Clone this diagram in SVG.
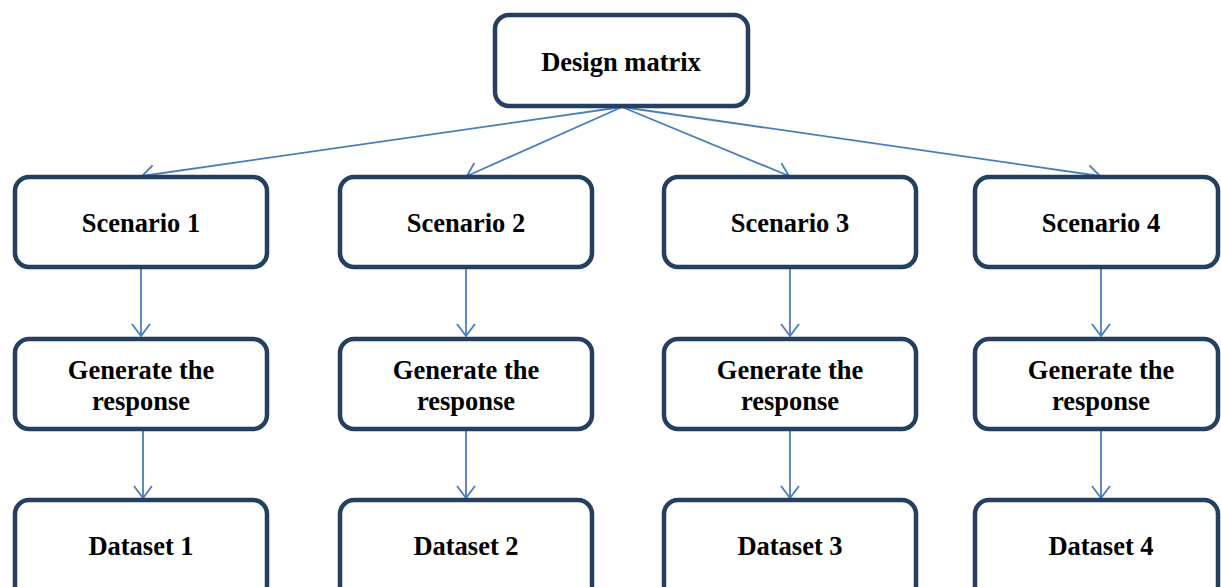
<svg xmlns="http://www.w3.org/2000/svg" width="1221" height="587" viewBox="0 0 1221 587">
<style>
.box{fill:#ffffff;stroke:#243f60;stroke-width:4.5}
.lbl{font-family:"Liberation Serif","Times New Roman",serif;font-weight:bold;font-size:26.5px;fill:#000;text-anchor:middle}
.conn{stroke:#4a7ebb;stroke-width:1.8;fill:none;marker-end:url(#arr)}
</style>
<defs>
<marker id="arr" markerUnits="userSpaceOnUse" markerWidth="24" markerHeight="24" refX="12" refY="12" orient="auto" overflow="visible">
<path d="M0,3 L12,12 L0,21" fill="none" stroke="#4a7ebb" stroke-width="1.8"/>
</marker>
</defs>
<rect width="1221" height="587" fill="#fff"/>
<g id="connectors">
<path class="conn" d="M622,107 L142,176"/>
<path class="conn" d="M622,107 L467,176"/>
<path class="conn" d="M622,107 L789,176"/>
<path class="conn" d="M622,107 L1100,176"/>
<path class="conn" d="M141,268 L141,336"/>
<path class="conn" d="M466,268 L466,336"/>
<path class="conn" d="M790,268 L790,336"/>
<path class="conn" d="M1101,268 L1101,336"/>
<path class="conn" d="M143,430 L143,498"/>
<path class="conn" d="M466,430 L466,498"/>
<path class="conn" d="M790,430 L790,498"/>
<path class="conn" d="M1101,430 L1101,498"/>
</g>
<g id="design-matrix"><rect class="box" x="495" y="15" width="253" height="91" rx="14"/><text class="lbl" x="621" y="71">Design matrix</text></g>
<g id="scenario-1"><rect class="box" x="15" y="177" width="252" height="90" rx="14"/><text class="lbl" x="141" y="232">Scenario 1</text></g>
<g id="scenario-2"><rect class="box" x="340" y="177" width="252" height="90" rx="14"/><text class="lbl" x="466" y="232">Scenario 2</text></g>
<g id="scenario-3"><rect class="box" x="664" y="177" width="252" height="90" rx="14"/><text class="lbl" x="790" y="232">Scenario 3</text></g>
<g id="scenario-4"><rect class="box" x="975" y="177" width="243" height="90" rx="14"/><text class="lbl" x="1101" y="232">Scenario 4</text></g>
<g id="generate-1"><rect class="box" x="15" y="339" width="252" height="90" rx="14"/><text class="lbl" x="141" y="379">Generate the</text><text class="lbl" x="141" y="410">response</text></g>
<g id="generate-2"><rect class="box" x="340" y="339" width="252" height="90" rx="14"/><text class="lbl" x="466" y="379">Generate the</text><text class="lbl" x="466" y="410">response</text></g>
<g id="generate-3"><rect class="box" x="664" y="339" width="252" height="90" rx="14"/><text class="lbl" x="790" y="379">Generate the</text><text class="lbl" x="790" y="410">response</text></g>
<g id="generate-4"><rect class="box" x="975" y="339" width="243" height="90" rx="14"/><text class="lbl" x="1101" y="379">Generate the</text><text class="lbl" x="1101" y="410">response</text></g>
<g id="dataset-1"><rect class="box" x="15" y="500" width="252" height="100" rx="14"/><text class="lbl" x="141" y="555">Dataset 1</text></g>
<g id="dataset-2"><rect class="box" x="340" y="500" width="252" height="100" rx="14"/><text class="lbl" x="466" y="555">Dataset 2</text></g>
<g id="dataset-3"><rect class="box" x="664" y="500" width="252" height="100" rx="14"/><text class="lbl" x="790" y="555">Dataset 3</text></g>
<g id="dataset-4"><rect class="box" x="975" y="500" width="243" height="100" rx="14"/><text class="lbl" x="1101" y="555">Dataset 4</text></g>
</svg>
